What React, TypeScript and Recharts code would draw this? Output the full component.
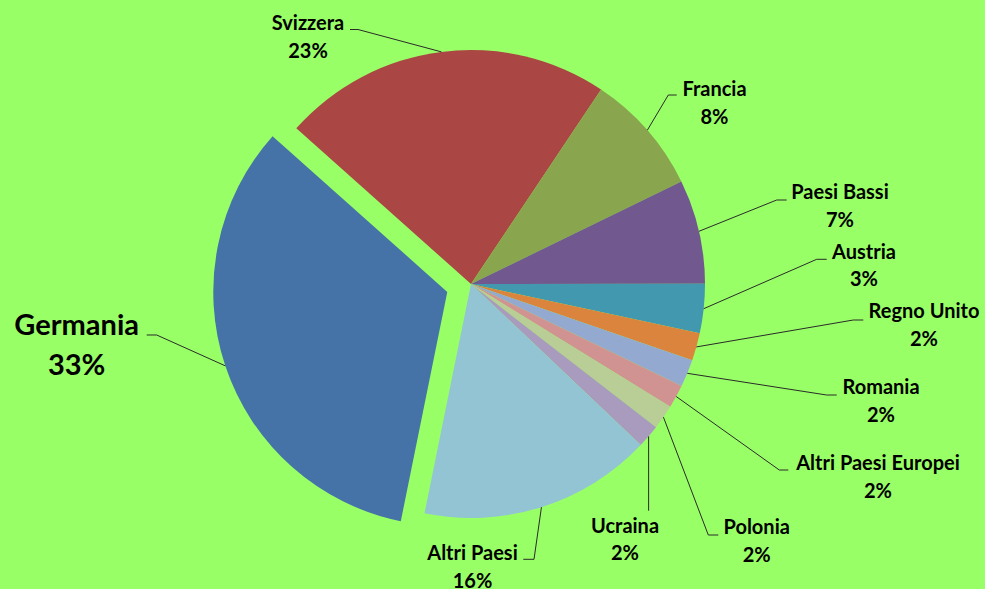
import { PieChart, Pie, Cell } from "recharts";

/* ── Data ─────────────────────────────────────────────────────────────── */
const paesi = [
  "Svizzera", "Francia", "Paesi Bassi", "Austria", "Regno Unito", "Romania",
  "Altri Paesi Europei", "Polonia", "Ucraina", "Altri Paesi", "Germania",
];
const quote = [22.8, 8.4, 7.2, 3.4, 1.9, 1.9, 1.6, 1.7, 1.6, 16.1, 33.4];
const colori = [
  "#AA4643", "#89A54E", "#71588F", "#4198AF", "#DB843D", "#93A9CF",
  "#D19392", "#B9CD96", "#A99BBD", "#93C4D4", "#4572A7",
];
const esploso = "Germania";

const data = paesi.map((name, i) => ({ name, value: quote[i] }));

/* ── Layout (label offsets from the pie centre) ──────────────────────── */
// tx, ty: label centre / baseline of first line; ex1 -> ex2 at ey: elbow of the leader
const labelPos = [
  { tx: -163, ty: -254, ex1: -113, ex2: -121, ey: -254.5 },
  { tx: 243.5, ty: -188, ex1: 197.3, ex2: 205.7, ey: -189 },
  { tx: 369, ty: -84.7, ex1: 305.7, ex2: 315.7, ey: -84 },
  { tx: 393, ty: -25.5, ex1: 345.7, ex2: 355.7, ey: -24.7 },
  { tx: 453, ty: 34.3, ex1: 382.3, ex2: 392.3, ey: 36 },
  { tx: 410, ty: 110, ex1: 355.7, ex2: 365.7, ey: 111 },
  { tx: 407, ty: 186, ex1: 308.3, ex2: 317.3, ey: 186 },
  { tx: 285.7, ty: 250, ex1: 237.3, ex2: 247.3, ey: 251 },
  { tx: 154, ty: 248.7, ex1: null, ex2: null, ey: 226.7 },
  { tx: 1.5, ty: 276, ex1: 63, ex2: 52.3, ey: 275.3 },
  { tx: -370.6, ty: 43.1, ex1: -290.6, ex2: -300.6, ey: 43.1 },
];

const W = 985;
const H = 589;
const CX = 471;
const CY = 284;
const R = 234;
const START = 138.3;
const EXPLODE = 25;

const RAD = Math.PI / 180;
const total = quote.reduce((s, v) => s + v, 0);
const idxEsploso = paesi.indexOf(esploso);
const before = quote.slice(0, idxEsploso).reduce((s, v) => s + v, 0);
const midEsploso = START - ((before + quote[idxEsploso] / 2) / total) * 360;
const ECX = CX + EXPLODE * Math.cos(-midEsploso * RAD);
const ECY = CY + EXPLODE * Math.sin(-midEsploso * RAD);

const font = "Lato, 'Open Sans', sans-serif";

function makeLabel(forExploded: boolean) {
  return (props: any) => {
    const { cx, cy, midAngle, outerRadius, index } = props;
    if ((index === idxEsploso) !== forExploded) return null;
    const p = labelPos[index];
    const big = index === idxEsploso;
    const ax = cx + outerRadius * Math.cos(-midAngle * RAD);
    const ay = cy + outerRadius * Math.sin(-midAngle * RAD);
    const ex1 = p.ex1 === null ? ax : cx + p.ex1;
    const ex2 = p.ex2 === null ? ax : cx + p.ex2;
    const ey = cy + p.ey;
    const pct = Math.round((quote[index] / total) * 100);
    return (
      <g key={`lbl-${index}`}>
        <polyline
          points={`${ax},${ay} ${ex1},${ey} ${ex2},${ey}`}
          fill="none"
          stroke="#2a2a2a"
          strokeWidth={1}
        />
        <text
          x={cx + p.tx}
          y={cy + p.ty}
          textAnchor="middle"
          fontFamily={font}
          fontWeight={700}
          fontSize={big ? 29 : 20}
          fill="#000"
        >
          {paesi[index]}
        </text>
        <text
          x={cx + p.tx}
          y={cy + p.ty + (big ? 40 : 27.5)}
          textAnchor="middle"
          fontFamily={font}
          fontWeight={700}
          fontSize={big ? 29 : 20}
          fill="#000"
        >
          {pct}%
        </text>
      </g>
    );
  };
}

export default function App() {
  return (
    <div style={{ position: "absolute", left: 0, top: 0, width: W, height: H, background: "#99FF66" }}>
      <PieChart width={W} height={H} margin={{ top: 0, right: 0, bottom: 0, left: 0 }}>
        <Pie
          data={data}
          dataKey="value"
          nameKey="name"
          cx={CX}
          cy={CY}
          outerRadius={R}
          startAngle={START}
          endAngle={START - 360}
          stroke="none"
          label={makeLabel(false)}
          labelLine={false}
          isAnimationActive={false}
        >
          {data.map((d, i) => (
            <Cell key={d.name} fill={i === idxEsploso ? "none" : colori[i]} />
          ))}
        </Pie>
        <Pie
          data={data}
          dataKey="value"
          nameKey="name"
          cx={ECX}
          cy={ECY}
          outerRadius={R}
          startAngle={START}
          endAngle={START - 360}
          stroke="none"
          label={makeLabel(true)}
          labelLine={false}
          isAnimationActive={false}
        >
          {data.map((d, i) => (
            <Cell key={d.name} fill={i === idxEsploso ? colori[i] : "none"} />
          ))}
        </Pie>
      </PieChart>
    </div>
  );
}
